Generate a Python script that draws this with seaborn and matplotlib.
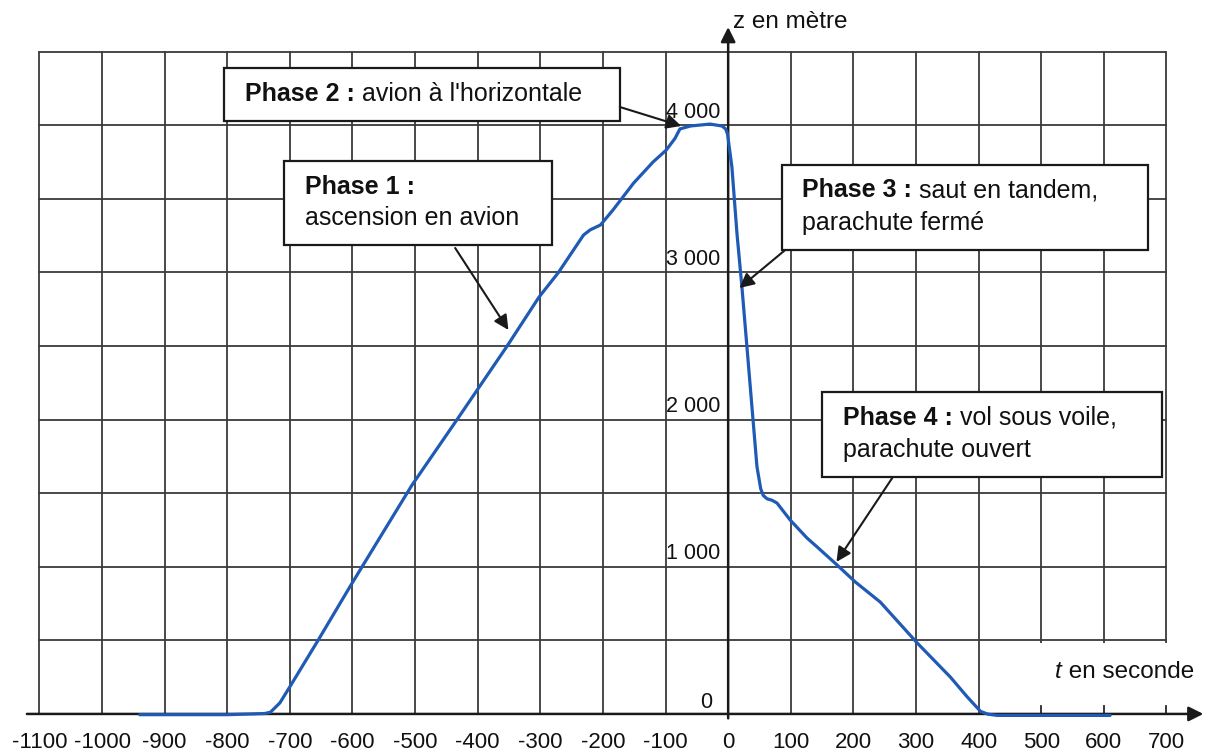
"""
Altitude d'un saut en parachute en fonction du temps.
"""

import matplotlib.pyplot as plt
import pandas as pd
import seaborn as sns
from matplotlib.patches import Rectangle

# Données (t en s, z en m)
temps = [-940, -800, -760, -740, -731, -716, -700, -655, -604, -583, -505,
         -433, -353, -302, -271, -231, -220, -204, -184, -151, -120, -99, -85,
         -77, -60, -29, -10, -4, -1, 6, 14, 22, 30, 38, 46, 52, 56, 62, 70,
         78, 99, 126, 142, 174, 203, 243, 302, 355, 382, 403, 415, 430, 500,
         610]
altitude = [-5, -5, 0, 3, 12, 75, 185, 500, 865, 1012, 1555,
            2000, 2500, 2833, 3000, 3254, 3290, 3322, 3424, 3607, 3750, 3831, 3910,
            3975, 3995, 4008, 3995, 3975, 3940, 3716, 3268, 2900, 2494, 2086, 1680, 1530, 1485, 1462, 1452,
            1433, 1318, 1195, 1135, 1012, 897, 760, 482, 250, 115, 18, -2, -10, -10,
            -10]

x_ticks = list(range(-1100, 701, 100))
x_labels = [str(v) for v in x_ticks]
y_ticks = [0, 1000, 2000, 3000, 4000]
y_labels = ["0", "1 000", "2 000", "3 000", "4 000"]
grille_z = list(range(500, 4501, 500))

sns.set_style("white")
plt.rcParams["font.family"] = ["Liberation Sans", "DejaVu Sans"]

fig = plt.figure(figsize=(12.09, 7.55), dpi=100)
ax = fig.add_axes([0, 0, 1, 1])

couleur_grille = "#3a3a3a"
# grille
for x in x_ticks:
    if x != 0:
        ax.plot([x, x], [0, 4500], color=couleur_grille, lw=1.3, zorder=1)
for z in grille_z:
    ax.plot([-1100, 700], [z, z], color=couleur_grille, lw=1.3, zorder=1)

# axes avec flèches
ax.annotate("", xy=(759, 0), xytext=(-1120, 0),
            arrowprops=dict(arrowstyle="-|>", color="#1a1a1a", lw=1.8,
                            mutation_scale=22, shrinkA=0, shrinkB=0),
            zorder=3)
ax.annotate("", xy=(0, 4667), xytext=(0, -30),
            arrowprops=dict(arrowstyle="-|>", color="#1a1a1a", lw=1.8,
                            mutation_scale=22, shrinkA=0, shrinkB=0),
            zorder=3)

# courbe
df = pd.DataFrame({"t": temps, "z": altitude})
sns.lineplot(data=df, x="t", y="z", ax=ax, color="#1f5bb5", lw=2.3,
             sort=False, zorder=4, solid_joinstyle="round",
             solid_capstyle="round")
ax.set_xlim(-1163, 768)
ax.set_ylim(-279, 4851)
ax.axis("off")

# graduations
for x, lab in zip(x_ticks, x_labels):
    ax.text(x, -231, lab, ha="center", va="baseline", fontsize=16,
            color="#111111")
for z, lab in zip(y_ticks, y_labels):
    if z == 0:
        ax.text(-26, 41, lab, ha="right", va="baseline", fontsize=15.5,
                color="#111111")
    else:
        ax.text(-12, z + 50, lab, ha="right", va="baseline", fontsize=15.5,
                color="#111111", zorder=2)

# titres des axes
ax.text(8, 4660, "z en mètre", ha="left", va="baseline", fontsize=17.5,
        color="#111111")
ax.add_patch(Rectangle((490, 61), 300, 421, fc="white", ec="none", zorder=2))
for x in [500, 600, 700]:
    ax.plot([x, x], [0, 50], color=couleur_grille, lw=1.3, zorder=2)
t_lab = ax.text(522, 245, "t", ha="left", va="baseline", fontsize=17.5,
                style="italic", color="#111111", zorder=3)
ax.annotate(" en seconde", xy=(1, 0), xycoords=t_lab, ha="left",
            va="bottom", fontsize=17.5, color="#111111", zorder=3)


def encadre(x0, x1, z0, z1, lignes, fleche_de, fleche_vers):
    """Cadre blanc avec texte et flèche vers la courbe."""
    ax.add_patch(Rectangle((x0, z0), x1 - x0, z1 - z0, fc="white",
                           ec="#1a1a1a", lw=1.6, zorder=5))
    for (xt, zt, gras, normal) in lignes:
        if gras:
            tb = ax.text(xt, zt, gras, ha="left", va="center", fontsize=18,
                         fontweight="bold", color="#111111", zorder=6)
            if normal:
                ax.annotate(normal, xy=(1, 0), xycoords=tb, ha="left",
                            va="bottom", fontsize=18, color="#111111",
                            zorder=6)
        else:
            ax.text(xt, zt, normal, ha="left", va="center", fontsize=18,
                    color="#111111", zorder=6)
    ax.annotate("", xy=fleche_vers, xytext=fleche_de,
                arrowprops=dict(arrowstyle="-|>", color="#1a1a1a", lw=1.5,
                                mutation_scale=22, shrinkA=0, shrinkB=0),
                zorder=6)


encadre(-805, -173, 4029, 4389,
        [(-772, 4212, "Phase 2 :", " avion à l'horizontale")],
        (-173, 4124), (-75, 3995))
encadre(-709, -281, 3186, 3757,
        [(-676, 3580, "Phase 1 :", None),
         (-676, 3370, None, "ascension en avion")],
        (-436, 3166), (-351, 2609))
encadre(86, 671, 3152, 3730,
        [(118, 3560, "Phase 3 :", " saut en tandem,"),
         (118, 3336, None, "parachute fermé")],
        (91, 3152), (18, 2894))
encadre(150, 693, 1610, 2187,
        [(184, 2011, "Phase 4 :", " vol sous voile,"),
         (184, 1793, None, "parachute ouvert")],
        (262, 1603), (173, 1033))

fig.savefig("out.png", dpi=100)
